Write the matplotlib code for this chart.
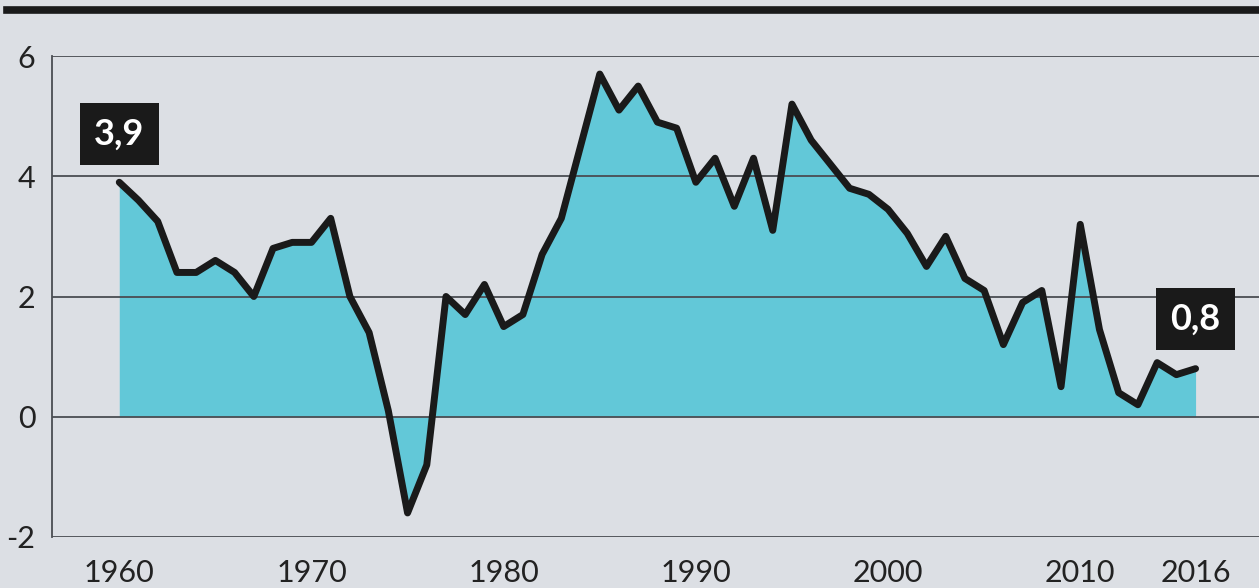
import numpy as np
import matplotlib.pyplot as plt
from matplotlib.lines import Line2D

years = list(range(1960, 2017))
values = [3.9, 3.6, 3.25, 2.4, 2.4, 2.6, 2.4, 2.0, 2.8, 2.9,
          2.9, 3.3, 2.0, 1.4, 0.1, -1.6, -0.8, 2.0, 1.7, 2.2,
          1.5, 1.7, 2.7, 3.3, 4.5, 5.7, 5.1, 5.5, 4.9, 4.8,
          3.9, 4.3, 3.5, 4.3, 3.1, 5.2, 4.6, 4.2, 3.8, 3.7,
          3.45, 3.05, 2.5, 3.0, 2.3, 2.1, 1.2, 1.9, 2.1, 0.5,
          3.2, 1.45, 0.4, 0.2, 0.9, 0.7, 0.8]
y_ticks = [-2, 0, 2, 4, 6]
x_ticks = [1960, 1970, 1980, 1990, 2000, 2010, 2016]
labels = {1960: "3,9", 2016: "0,8"}

bg = "#dcdfe4"
fill_col = "#62c8d8"
grid_col = "#4a4d52"

plt.rcParams['font.family'] = ['Lato', 'DejaVu Sans']

fig = plt.figure(figsize=(12.59, 5.88), dpi=100, facecolor=bg)
ax = fig.add_axes([52 / 1259, 1 - 537 / 588, 1 - 52 / 1259, (537 - 56) / 588])
ax.set_facecolor(bg)

ax.fill_between(years, values, 0, color=fill_col, linewidth=0, zorder=1)
for yv in y_ticks:
    ax.axhline(yv, color=grid_col, linewidth=1.3, zorder=2)
ax.plot(years, values, color="#1a1a1a", linewidth=5, solid_joinstyle="round",
        solid_capstyle="round", zorder=3)

ax.set_xlim(1956.5, 2019.3)
ax.set_ylim(-2, 6)
ax.set_yticks(y_ticks)
ax.set_yticklabels([str(v) for v in y_ticks])
ax.set_xticks(x_ticks)
ax.set_xticklabels([str(v) for v in x_ticks])
ax.tick_params(length=0, labelsize=22, colors="#222222")
ax.tick_params(axis='y', pad=12)
ax.tick_params(axis='x', pad=16)

for s in ['top', 'right', 'bottom']:
    ax.spines[s].set_visible(False)
ax.spines['left'].set_color(grid_col)
ax.spines['left'].set_linewidth(1.3)

# value boxes
box = dict(boxstyle="square,pad=0.4", facecolor="#1a1a1a", edgecolor="none")
ax.text(1960.0, 4.7, labels[1960], color="white", fontsize=26, fontweight="bold",
        ha="center", va="center", bbox=box, zorder=4)
ax.text(2016.0, 1.62, labels[2016], color="white", fontsize=26, fontweight="bold",
        ha="center", va="center", bbox=box, zorder=4)

# thick rule at the top
fig.add_artist(Line2D([7 / 1259, 1], [1 - 10 / 588, 1 - 10 / 588], color="#1a1a1a",
                      linewidth=5.5, transform=fig.transFigure))

fig.savefig("out.png", dpi=100, facecolor=bg)
